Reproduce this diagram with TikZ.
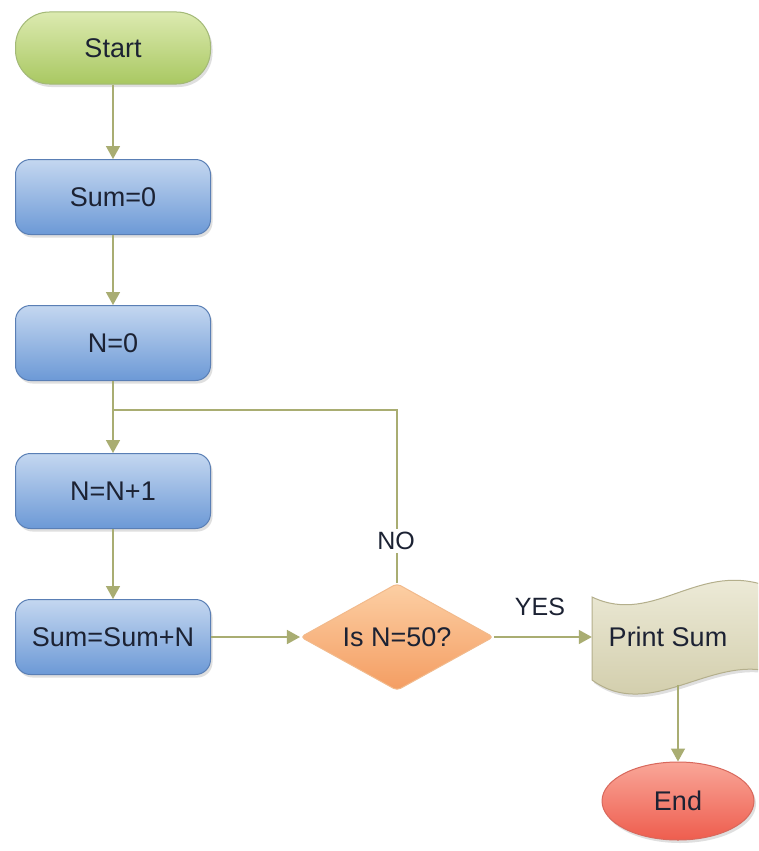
\documentclass[tikz,border=0pt]{standalone}
\usepackage{fontspec}
\setmainfont{Liberation Sans}
\usetikzlibrary{shapes.geometric,arrows.meta,shadows}
\definecolor{lineol}{HTML}{A9AD72}
\definecolor{greentop}{HTML}{DCEAB0}
\definecolor{greenbot}{HTML}{A9C862}
\definecolor{greenbd}{HTML}{A3B977}
\definecolor{bluetop}{HTML}{C4D7F0}
\definecolor{bluebot}{HTML}{6C99D6}
\definecolor{bluebd}{HTML}{5A7FB5}
\definecolor{orgtop}{HTML}{FCCFA4}
\definecolor{orgbot}{HTML}{F49D62}
\definecolor{orgbd}{HTML}{F2BA8C}
\definecolor{redtop}{HTML}{F9A698}
\definecolor{redbot}{HTML}{EE5D4E}
\definecolor{redbd}{HTML}{D8685C}
\definecolor{tapetop}{HTML}{F1EFDF}
\definecolor{tapebot}{HTML}{CDC8A3}
\definecolor{tapebd}{HTML}{B4AF8C}
\definecolor{txt}{HTML}{1C2233}
\tikzset{
  basefont/.style={font=\fontsize{27}{32}\selectfont, text=txt},
  shad/.style={drop shadow={opacity=0.25, shadow xshift=2pt, shadow yshift=-3pt}},
  termgreen/.style={basefont, draw=greenbd, line width=1pt, rounded corners=34pt,
    top color=greentop, bottom color=greenbot, minimum width=195pt, minimum height=72pt, shad},
  procbox/.style={basefont, draw=bluebd, line width=1pt, rounded corners=15pt,
    top color=bluetop, bottom color=bluebot, minimum width=195pt, minimum height=75pt, shad},
  decide/.style={diamond, draw=orgbd, line width=1pt, rounded corners=4pt,
    top color=orgtop, bottom color=orgbot, minimum width=193pt, minimum height=107pt, inner sep=0pt},
  termred/.style={basefont, ellipse, draw=redbd, line width=1pt,
    top color=redtop, bottom color=redbot, minimum width=152pt, minimum height=78pt, shad},
  conn/.style={draw=lineol, line width=1.5pt},
  arr/.style={conn, -{Triangle[width=14pt,length=13pt]}},
  lbl/.style={font=\fontsize{25}{30}\selectfont, text=txt}
}
\begin{document}
\begin{tikzpicture}[x=1pt,y=-1pt]
\useasboundingbox (0,0) rectangle (758,851);
\clip (0,0) rectangle (758,851);
\fill[white] (0,0) rectangle (758,851);

\node[termgreen] (start) at (113,48) {Start};
\node[procbox] (sum0) at (113,197) {Sum=0};
\node[procbox] (n0) at (113,343) {N=0};
\node[procbox] (nn1) at (113,491) {N=N+1};
\node[procbox] (sumn) at (113,637) {Sum=Sum+N};
\node[decide, label={[basefont]center:Is N=50?}] (dia) at (397,637) {};

% tape shape for Print Sum
\path[shad, draw=tapebd, line width=1pt, top color=tapetop, bottom color=tapebot]
  (592,597) .. controls (655,627) and (700,558) .. (772,588)
  -- (772,672) .. controls (710,655) and (650,722) .. (592,680) -- cycle;
\node[minimum width=172pt, minimum height=96pt, inner sep=0pt] (print) at (678,637) {};
\node[basefont] (printtxt) at (668,637) {Print Sum};

\node[termred] (end) at (678,801) {End};

\coordinate (junc) at (113,410);
\coordinate (corner) at (397,410);

\draw[arr] (start) -- (sum0);
\draw[arr] (sum0) -- (n0);
\draw[arr] (n0) -- (nn1);
\draw[arr] (nn1) -- (sumn);
\draw[arr] (sumn) -- (dia);
\draw[conn] (dia.north) -- (corner) -- (junc);
\node[lbl, fill=white, inner sep=3pt] (no) at (396,541) {NO};
\draw[arr] (dia) -- (print.west);
\node[lbl] (yes) at (540,607) {YES};
\draw[arr] (print.south) -- (end);
\end{tikzpicture}
\end{document}
